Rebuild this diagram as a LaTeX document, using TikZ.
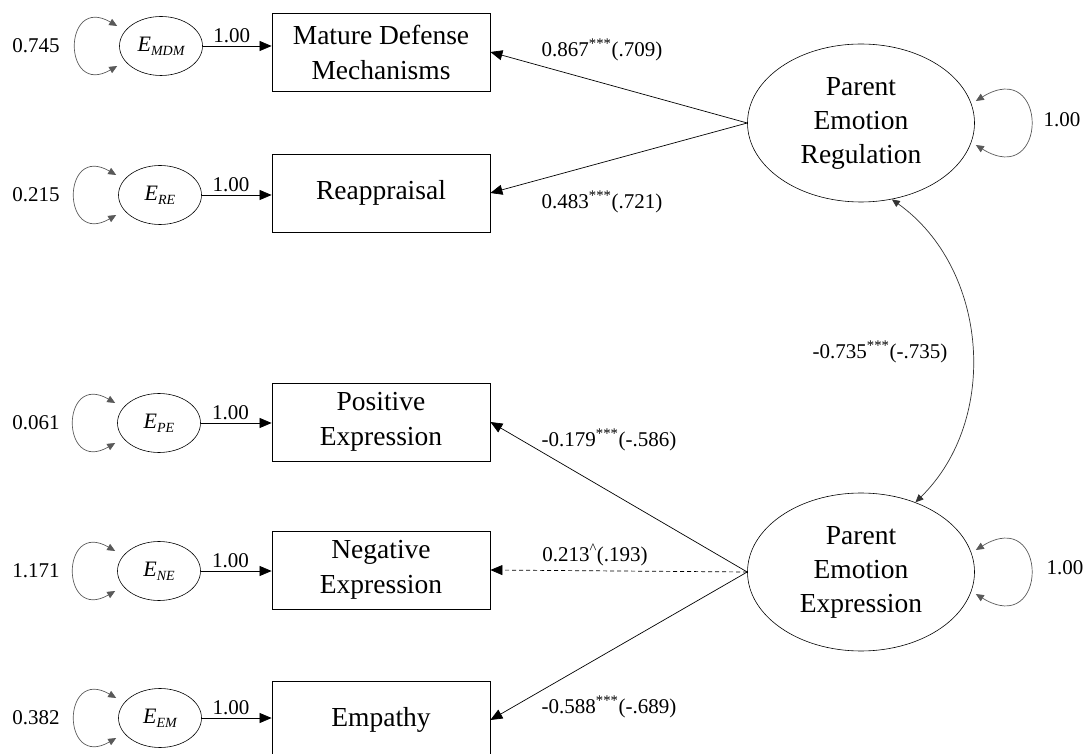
\documentclass[tikz,border=0pt]{standalone}
\usepackage{fontspec}
\setmainfont{Liberation Serif}
\usetikzlibrary{arrows.meta,shapes.geometric}
\newcommand{\errlab}[1]{\textit{E}\raisebox{-4pt}{\fontsize{14}{14}\selectfont\itshape #1}}
\begin{document}
\begin{tikzpicture}[x=1pt,y=1pt,
	obs/.style={draw,line width=0.8pt,minimum width=218pt,minimum height=78pt,align=center,inner sep=2pt,font=\fontsize{27.5}{35}\selectfont},
	lat/.style={draw,ellipse,line width=0.6pt,minimum width=227pt,minimum height=158pt,align=center,inner sep=0pt,font=\fontsize{27.5}{34}\selectfont},
	err/.style={draw,ellipse,line width=0.6pt,minimum width=83pt,minimum height=59pt,inner sep=0pt,font=\fontsize{22}{22}\selectfont},
	load/.style={line width=0.7pt,-{Triangle[length=12pt,width=10pt]}},
	var/.style={gray!70!black,line width=0.7pt,{Triangle[length=8pt,width=7pt]}-{Triangle[length=8pt,width=7pt]}},
	num/.style={font=\fontsize{21}{21}\selectfont}]
	\useasboundingbox (0,0) rectangle (1087,753);
	\clip (0,0) rectangle (1087,753);
	% indicators
	\node[obs] (mdm) at (381,701) {Mature Defense\\Mechanisms};
	\node[obs] (re) at (381,560) {Reappraisal};
	\node[obs] (pe) at (381,331) {Positive\\Expression};
	\node[obs] (ne) at (381,183) {Negative\\Expression};
	\node[obs] (em) at (381,33) {Empathy};
	% latent factors
	\node[lat] (per) at (861,630) {Parent\\Emotion\\Regulation};
	\node[lat] (pee) at (861,181) {Parent\\Emotion\\Expression};
	% error terms
	\node[err] (emdm) at (161,707) {\errlab{MDM}};
	\node[err] (ere) at (160,558) {\errlab{RE}};
	\node[err] (epe) at (159,330) {\errlab{PE}};
	\node[err] (ene) at (159,182) {\errlab{NE}};
	\node[err] (eem) at (160,35) {\errlab{EM}};
	\draw[load] (emdm.east) -- node[num,pos=0.42,above] (omdm) {1.00} (emdm.east -| mdm.west);
	\draw[load] (ere.east) -- node[num,pos=0.42,above] (ore) {1.00} (ere.east -| re.west);
	\draw[load] (epe.east) -- node[num,pos=0.42,above] (ope) {1.00} (epe.east -| pe.west);
	\draw[load] (ene.east) -- node[num,pos=0.42,above] (one) {1.00} (ene.east -| ne.west);
	\draw[load] (eem.east) -- node[num,pos=0.42,above] (oem) {1.00} (eem.east -| em.west);
	\draw[var] ([shift={(-2,20)}]emdm.west) .. controls +(-55,32) and +(-55,-32) .. ([shift={(-2,-20)}]emdm.west);
	\draw[var] ([shift={(-2,20)}]ere.west) .. controls +(-55,32) and +(-55,-32) .. ([shift={(-2,-20)}]ere.west);
	\draw[var] ([shift={(-2,20)}]epe.west) .. controls +(-55,32) and +(-55,-32) .. ([shift={(-2,-20)}]epe.west);
	\draw[var] ([shift={(-2,20)}]ene.west) .. controls +(-55,32) and +(-55,-32) .. ([shift={(-2,-20)}]ene.west);
	\draw[var] ([shift={(-2,20)}]eem.west) .. controls +(-55,32) and +(-55,-32) .. ([shift={(-2,-20)}]eem.west);
	\node[num] (vmdm) at (36,707) {0.745};
	\node[num] (vre) at (36,558) {0.215};
	\node[num] (vpe) at (36,330) {0.061};
	\node[num] (vne) at (36,182) {1.171};
	\node[num] (vem) at (36,35) {0.382};
	% factor loadings
	\draw[load] (per.west) -- (mdm.east);
	\draw[load] (per.west) -- (re.east);
	\draw[load] (pee.west) -- (pe.east);
	\draw[load,dash pattern=on 4pt off 3pt] (pee.west) -- (ne.east);
	\draw[load] (pee.west) -- (em.east);
	\node[num] (lmdm) at (602,703) {0.867\textsuperscript{***}(.709)};
	\node[num] (lre) at (602,551) {0.483\textsuperscript{***}(.721)};
	\node[num] (lpe) at (609,313) {-0.179\textsuperscript{***}(-.586)};
	\node[num] (lne) at (595,198) {0.213\textsuperscript{\textasciicircum}(.193)};
	\node[num] (lem) at (609,46) {-0.588\textsuperscript{***}(-.689)};
	% factor variances and covariance
	\draw[var] ([shift={(1,22)}]per.east) .. controls +(73,45) and +(73,-45) .. ([shift={(1,-22)}]per.east);
	\draw[var] ([shift={(1,22)}]pee.east) .. controls +(73,45) and +(73,-45) .. ([shift={(1,-22)}]pee.east);
	\node[num] (vper) at (1062,633) {1.00};
	\node[num] (vpee) at (1065,185) {1.00};
	\draw[var,black!80] (per.-68) to[bend left=50] (pee.52);
	\node[num] (cov) at (880,401) {-0.735\textsuperscript{***}(-.735)};
\end{tikzpicture}
\end{document}
